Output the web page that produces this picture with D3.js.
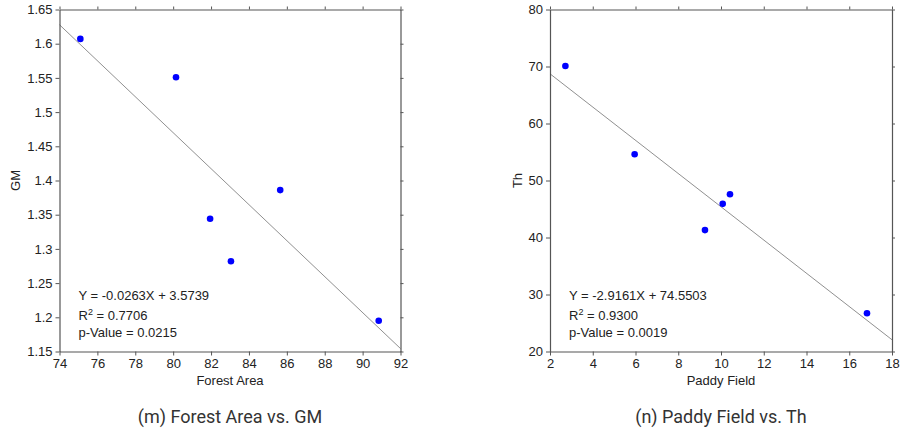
<!DOCTYPE html>
<html><head><meta charset="utf-8">
<script src="https://cdn.jsdelivr.net/npm/d3@7"></script>
<style>body{margin:0;background:#fff}svg{display:block}</style>
</head><body>
<svg id="c" width="902" height="430"></svg>
<script>
// Panel (m): Forest Area vs. GM
const forestArea = [75.1, 80.15, 81.95, 83.05, 85.65, 90.85];
const gmValues   = [1.607, 1.551, 1.344, 1.282, 1.386, 1.195];
const forestTicks = [74, 76, 78, 80, 82, 84, 86, 88, 90, 92];
const gmTicks = [1.15, 1.2, 1.25, 1.3, 1.35, 1.4, 1.45, 1.5, 1.55, 1.6, 1.65];
const fitM = {slope: -0.0263, intercept: 3.5739};
const statsM = ["Y = -0.0263X + 3.5739", "0.7706", "p-Value = 0.0215"];

// Panel (n): Paddy Field vs. Th
const paddyField = [2.72, 5.96, 9.25, 10.08, 10.42, 16.83];
const thValues   = [70.1, 54.6, 41.3, 45.9, 47.6, 26.7];
const paddyTicks = [2, 4, 6, 8, 10, 12, 14, 16, 18];
const thTicks = [20, 30, 40, 50, 60, 70, 80];
const fitN = {slope: -2.9161, intercept: 74.5503};
const statsN = ["Y = -2.9161X + 74.5503", "0.9300", "p-Value = 0.0019"];

const svg = d3.select("#c");

function panel(cfg) {
  const x = d3.scaleLinear().domain(cfg.xDom).range([cfg.x0, cfg.x1]);
  const y = d3.scaleLinear().domain(cfg.yDom).range([cfg.y1, cfg.y0]);
  const g = svg.append("g");
  const font = "'Liberation Sans', Arial, sans-serif";
  const fs = 13;
  const axStyle = sel => {
    sel.selectAll("path").attr("stroke", "#555").attr("stroke-width", 1.2);
    sel.selectAll("line").attr("stroke", "#555");
    sel.selectAll("text").attr("font-family", font).attr("font-size", fs).attr("fill", "#222");
  };
  g.append("g").attr("transform", `translate(0,${cfg.y1})`)
    .call(d3.axisBottom(x).tickValues(cfg.xTicks).tickFormat(d3.format("d")).tickSizeInner(4).tickSizeOuter(0).tickPadding(3)).call(axStyle);
  g.append("g").attr("transform", `translate(0,${cfg.y0})`)
    .call(d3.axisTop(x).tickValues(cfg.xTicks).tickFormat("").tickSizeInner(3).tickSizeOuter(0)).call(axStyle);
  g.append("g").attr("transform", `translate(${cfg.x0},0)`)
    .call(d3.axisLeft(y).tickValues(cfg.yTicks).tickFormat(cfg.yFmt).tickSizeInner(4).tickSizeOuter(0).tickPadding(3)).call(axStyle);
  g.append("g").attr("transform", `translate(${cfg.x1},0)`)
    .call(d3.axisRight(y).tickValues(cfg.yTicks).tickFormat("").tickSizeInner(3).tickSizeOuter(0)).call(axStyle);

  // regression line
  const xd = cfg.xDom;
  g.append("line")
    .attr("x1", x(xd[0])).attr("y1", y(cfg.fit.slope * xd[0] + cfg.fit.intercept))
    .attr("x2", x(xd[1])).attr("y2", y(cfg.fit.slope * xd[1] + cfg.fit.intercept))
    .attr("stroke", "#444").attr("stroke-width", 0.6);

  // points
  g.selectAll("circle.pt").data(cfg.xs).join("circle").attr("class", "pt")
    .attr("cx", d => x(d)).attr("cy", (d, i) => y(cfg.ys[i])).attr("r", 3.3).attr("fill", "#0000ff");

  // stats
  const tx = cfg.x0 + 19;
  g.append("text").attr("x", tx).attr("y", 300).attr("font-family", font).attr("font-size", fs).attr("fill", "#222").text(cfg.stats[0]);
  const r = g.append("text").attr("x", tx).attr("y", 320).attr("font-family", font).attr("font-size", fs).attr("fill", "#222");
  r.append("tspan").text("R");
  r.append("tspan").attr("dy", -5).attr("font-size", 9).text("2");
  r.append("tspan").attr("dy", 5).text(" = " + cfg.stats[1]);
  g.append("text").attr("x", tx).attr("y", 337).attr("font-family", font).attr("font-size", fs).attr("fill", "#222").text(cfg.stats[2]);

  // axis titles
  const cx = (cfg.x0 + cfg.x1) / 2;
  g.append("text").attr("x", cx).attr("y", 385).attr("text-anchor", "middle").attr("font-family", font).attr("font-size", fs).attr("fill", "#222").text(cfg.xLabel);
  g.append("text").attr("transform", `translate(${cfg.yLabelX},${(cfg.y0 + cfg.y1) / 2}) rotate(-90)`).attr("text-anchor", "middle").attr("font-family", font).attr("font-size", fs).attr("fill", "#222").text(cfg.yLabel);
  g.append("text").attr("x", cx).attr("y", 423).attr("text-anchor", "middle").attr("font-family", "Roboto, sans-serif").attr("font-weight", 400).attr("font-size", 18).attr("fill", "#333").text(cfg.caption);
}

panel({x0: 59.5, x1: 400.5, y0: 9.5, y1: 351.5, xDom: [74, 92], yDom: [1.15, 1.65],
  xTicks: forestTicks, yTicks: gmTicks, yFmt: d3.format(""), xs: forestArea, ys: gmValues,
  fit: fitM, stats: statsM, xLabel: "Forest Area", yLabel: "GM", yLabelX: 20, caption: "(m) Forest Area vs. GM"});
panel({x0: 550, x1: 892, y0: 9.5, y1: 351.5, xDom: [2, 18], yDom: [20, 80],
  xTicks: paddyTicks, yTicks: thTicks, yFmt: d3.format("d"), xs: paddyField, ys: thValues,
  fit: fitN, stats: statsN, xLabel: "Paddy Field", yLabel: "Th", yLabelX: 522, caption: "(n) Paddy Field vs. Th"});
</script>
</body></html>
